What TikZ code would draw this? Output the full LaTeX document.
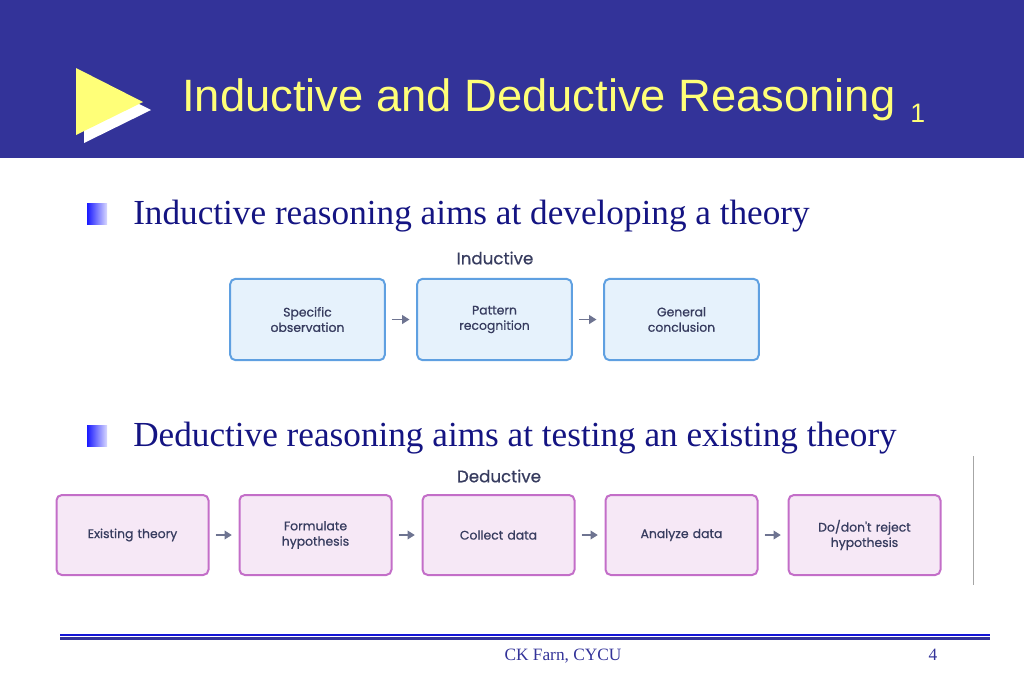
\documentclass[tikz,border=0pt]{standalone}
\usepackage{fontspec}
\setmainfont{Liberation Serif}
\setsansfont{Liberation Sans}
\newfontfamily\boxfont[FakeBold=0.7]{Poppins}
\usetikzlibrary{positioning,arrows.meta}

\definecolor{band}{RGB}{51,51,153}
\definecolor{titleyellow}{RGB}{255,255,120}
\definecolor{navy}{RGB}{20,20,130}
\definecolor{indfill}{RGB}{230,242,252}
\definecolor{indline}{RGB}{95,160,225}
\definecolor{dedfill}{RGB}{246,232,246}
\definecolor{dedline}{RGB}{195,110,200}
\definecolor{boxtext}{RGB}{55,60,95}
\definecolor{arrowgray}{RGB}{110,116,145}

\tikzstyle{indbox} = [rectangle, draw=indline, fill=indfill, line width=1.5pt, rounded corners=4pt, minimum width=116pt, minimum height=61pt, text width=100pt, align=center, font=\boxfont\fontsize{9.3}{11.5}\selectfont, text=boxtext]
\tikzstyle{dedbox} = [indbox, draw=dedline, fill=dedfill, minimum width=114pt, minimum height=60pt]
\tikzstyle{heading} = [font=\boxfont\fontsize{12.5}{14}\selectfont, text=boxtext]
\tikzstyle{bullettext} = [anchor=base west, inner sep=0pt, font=\fontsize{26.4}{30}\selectfont, text=navy]
\tikzstyle{arrow} = [line width=1.3pt, ->, >={Triangle[length=5.5pt, width=6.5pt]}, draw=arrowgray, fill=arrowgray, shorten <=4.5pt, shorten >=5pt]

\begin{document}
\begin{tikzpicture}
    [x=0.75pt, y=-0.75pt, node distance=140.25pt]
  \useasboundingbox (0,0) rectangle (1024,683);
  % title band
  \fill[band] (0,0) rectangle (1024,158);
  \fill[white] (84,76) -- (151,110) -- (84,143) -- cycle;
  \fill[titleyellow] (76,68) -- (143,102) -- (76,135) -- cycle;
  \node[anchor=base west, inner sep=0pt, text=titleyellow, font=\sffamily\fontsize{34}{40}\selectfont] (title) at (182,111) {Inductive and Deductive Reasoning};
  \node[anchor=base west, inner sep=0pt, text=titleyellow, font=\sffamily\fontsize{20}{24}\selectfont] (titlenum) at (910,122) {1};

  % inductive
  \shade[left color=blue!90, right color=blue!15] (87,203) rectangle (107,224);
  \node[bullettext] (indtext) at (133,224) {Inductive reasoning aims at developing a theory};
  \node[heading] (indhead) at (495,258) {Inductive};
  \node[indbox] (I1) at (307.5,319.5) {Specific\\observation};
  \node[indbox, right of=I1] (I2) {Pattern\\recognition};
  \node[indbox, right of=I2] (I3) {General\\conclusion};
  \draw [arrow] (I1) -- (I2);
  \draw [arrow] (I2) -- (I3);

  % deductive
  \shade[left color=blue!90, right color=blue!15] (87,425) rectangle (107,446);
  \node[bullettext] (dedtext) at (133,446) {Deductive reasoning aims at testing an existing theory};
  \node[heading] (dedhead) at (499,476) {Deductive};
  \begin{scope}[node distance=137.25pt]
    \node[dedbox] (D1) at (132.5,535) {Existing theory};
    \node[dedbox, right of=D1] (D2) {Formulate\\hypothesis};
    \node[dedbox, right of=D2] (D3) {Collect data};
    \node[dedbox, right of=D3] (D4) {Analyze data};
    \node[dedbox, right of=D4] (D5) {Do/don't reject\\hypothesis};
  \end{scope}
  \draw [arrow] (D1) -- (D2);
  \draw [arrow] (D2) -- (D3);
  \draw [arrow] (D3) -- (D4);
  \draw [arrow] (D4) -- (D5);
  \draw[gray!70, line width=0.6pt] (973,456) -- (973,585);

  % footer
  \draw[blue!60!band, line width=0.8pt] (60,635) -- (990,635);
  \draw[band, line width=1.6pt] (60,638.5) -- (990,638.5);
  \node[anchor=base, inner sep=0pt, text=band, font=\fontsize{13}{15}\selectfont] (footer) at (563,660) {CK Farn, CYCU};
  \node[anchor=base, inner sep=0pt, text=band, font=\fontsize{13}{15}\selectfont] (pagenum) at (933,660) {4};
\end{tikzpicture}
\end{document}
